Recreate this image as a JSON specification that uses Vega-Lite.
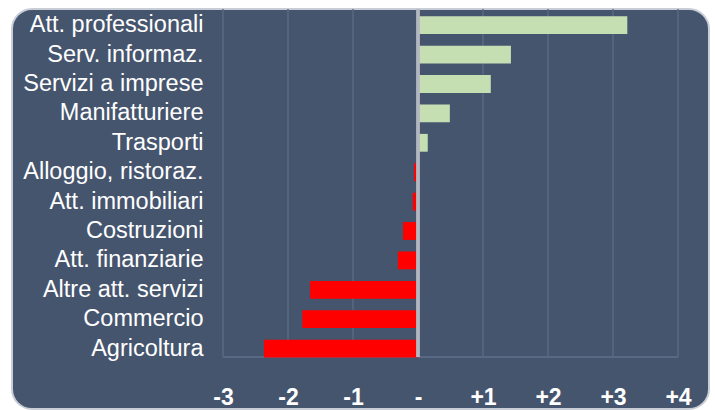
{
  "$schema": "https://vega.github.io/schema/vega-lite/v6.json",
  "width": 697,
  "height": 400,
  "autosize": {"type": "none"},
  "padding": {"left": 12, "top": 9, "right": 6, "bottom": 1},
  "background": "white",
  "config": {
    "font": "Liberation Sans",
    "view": {"fill": "#46556e", "stroke": "#c9ced6", "strokeWidth": 2, "cornerRadius": 20},
    "axis": {"labelFont": "Liberation Sans"}
  },
  "datasets": {
    "sectors": [
      {"settore": "Att. professionali", "valore": 3.22},
      {"settore": "Serv. informaz.", "valore": 1.43},
      {"settore": "Servizi a imprese", "valore": 1.12},
      {"settore": "Manifatturiere", "valore": 0.49},
      {"settore": "Trasporti", "valore": 0.15},
      {"settore": "Alloggio, ristoraz.", "valore": -0.06},
      {"settore": "Att. immobiliari", "valore": -0.08},
      {"settore": "Costruzioni", "valore": -0.23},
      {"settore": "Att. finanziarie", "valore": -0.31},
      {"settore": "Altre att. servizi", "valore": -1.66},
      {"settore": "Commercio", "valore": -1.78},
      {"settore": "Agricoltura", "valore": -2.37}
    ],
    "grid": [{"v": -3}, {"v": -2}, {"v": -1}, {"v": 0}, {"v": 1}, {"v": 2}, {"v": 3}, {"v": 4}]
  },
  "layer": [
    {
      "data": {"name": "grid"},
      "mark": {"type": "rule", "color": "#5a6984", "strokeWidth": 1.5},
      "encoding": {
        "x": {
          "field": "v",
          "type": "quantitative",
          "scale": {"domain": [-6.246, 4.477], "nice": false, "zero": false},
          "axis": {
            "values": [-3, -2, -1, 0, 1, 2, 3, 4],
            "labelExpr": "datum.value == 0 ? '-' : (datum.value > 0 ? '+' + datum.value : '-' + (-datum.value))",
            "grid": false,
            "ticks": false,
            "domain": false,
            "title": null,
            "labelColor": "white",
            "labelFontSize": 23,
            "labelFontWeight": "bold",
            "labelPadding": -23,
            "labelFlush": false
          }
        },
        "y": {"datum": 1, "type": "quantitative", "scale": {"domain": [-0.1494, 1], "nice": false, "zero": false}, "axis": null},
        "y2": {"datum": 0}
      }
    },
    {
      "data": {"name": "grid"},
      "mark": {"type": "rule", "color": "#5a6984", "strokeWidth": 1.5},
      "encoding": {
        "x": {"datum": -3, "type": "quantitative"},
        "x2": {"datum": 4},
        "y": {"datum": 0, "type": "quantitative", "scale": {"domain": [-0.1494, 1], "nice": false, "zero": false}, "axis": null}
      }
    },
    {
      "data": {"name": "sectors"},
      "mark": {"type": "bar"},
      "encoding": {
        "y": {
          "field": "settore",
          "type": "nominal",
          "sort": null,
          "scale": {"paddingInner": 0.394, "paddingOuter": 1.1175, "align": 0.124},
          "axis": {
            "title": null,
            "domain": false,
            "ticks": false,
            "grid": false,
            "labelColor": "white",
            "labelFontSize": 23.5,
            "labelPadding": -191,
            "labelLimit": 400
          }
        },
        "x": {"field": "valore", "type": "quantitative"},
        "x2": {"datum": 0},
        "color": {
          "condition": {"test": "datum.valore > 0", "value": "#c5dfb3"},
          "value": "#ff0000"
        }
      }
    },
    {
      "data": {"name": "grid"},
      "mark": {"type": "rule", "color": "#b3b8c0", "strokeWidth": 2.5},
      "encoding": {
        "x": {"datum": 0, "type": "quantitative"},
        "y": {"datum": 1, "type": "quantitative", "scale": {"domain": [-0.1494, 1], "nice": false, "zero": false}, "axis": null},
        "y2": {"datum": 0}
      }
    }
  ],
  "resolve": {"scale": {"y": "independent"}}
}
